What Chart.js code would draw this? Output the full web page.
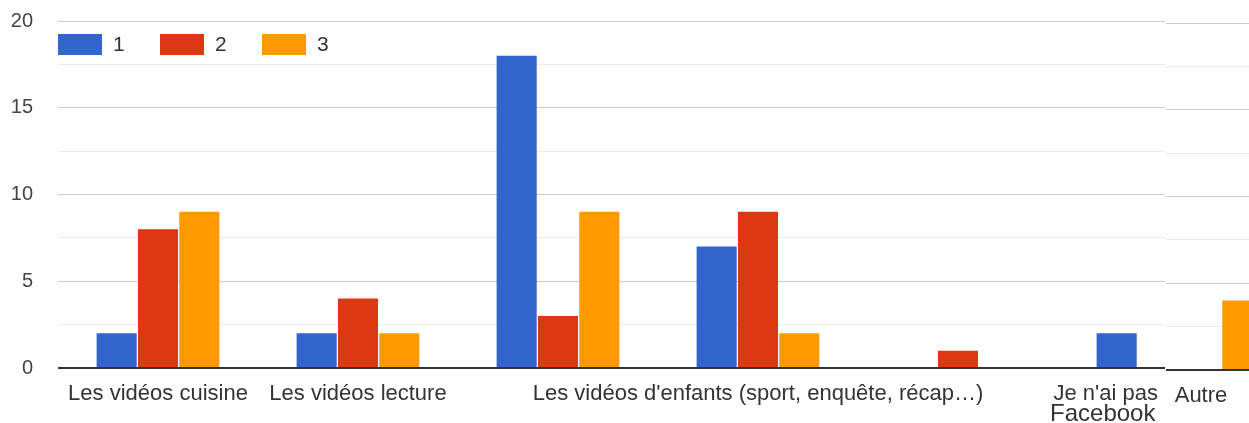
<!DOCTYPE html>
<html lang="fr">
<head>
    <meta charset="UTF-8">
    <title>Vidéos</title>
    <style>
        body {
            margin: 0;
            background: #ffffff;
            font-family: "Liberation Sans", Arial, sans-serif;
        }
        #wrap {
            position: relative;
            width: 1249px;
            height: 423px;
            overflow: hidden;
        }
        #left {
            position: absolute;
            left: 0;
            top: 0;
            width: 1165px;
            height: 423px;
            overflow: hidden;
        }
        #right {
            position: absolute;
            left: 1166px;
            top: 0;
            width: 83px;
            height: 423px;
            overflow: hidden;
        }
        #rightChart {
            margin-left: -65px;
        }
    </style>
    <script src="https://cdn.jsdelivr.net/npm/chart.js"></script>
</head>
<body>
    <div id="wrap">
        <div id="left"><canvas id="leftChart" width="1258" height="423"></canvas></div>
        <div id="right"><canvas id="rightChart" width="200" height="423"></canvas></div>
    </div>

    <script>
        // données
        var categories = ['Les vidéos cuisine', 'Les vidéos lecture', '', "Les vidéos d'enfants (sport, enquête, récap…)", '', ["Je n'ai pas", 'Facebook'], 'Autre'];
        var seriesNames = ['1', '2', '3'];
        var serie1 = [2, 2, 18, 7, 0, 2, 0];
        var serie2 = [8, 4, 3, 9, 1, 0, 0];
        var serie3 = [9, 2, 9, 2, 0, 0, 4];
        var colors = ['#3366cc', '#dc3912', '#ff9900'];
        var yTicks = [0, 5, 10, 15, 20];

        var FONT = '"Liberation Sans", Arial, sans-serif';

        function makeDatasets(from, to) {
            return [serie1, serie2, serie3].map(function (s, i) {
                return {
                    label: seriesNames[i],
                    data: s.slice(from, to),
                    backgroundColor: colors[i],
                    categoryPercentage: 0.62,
                    barPercentage: 0.97
                };
            });
        }

        // libellés de l'axe X dessinés à la main (décalés pour rester dans le cadre)
        var xLabels = {
            id: 'xLabels',
            afterDraw: function (chart, args, opts) {
                var ctx = chart.ctx, xs = chart.scales.x;
                ctx.save();
                ctx.fillStyle = '#333333';
                ctx.textBaseline = 'middle';
                ctx.textAlign = 'center';
                chart.data.labels.forEach(function (lab, i) {
                    var lines = Array.isArray(lab) ? lab : [lab];
                    ctx.font = '22px ' + FONT;
                    var w = Math.max.apply(null, lines.map(function (l) { return ctx.measureText(l).width; }));
                    var x = xs.getPixelForValue(i);
                    if (x + w / 2 > opts.maxRight) x = opts.maxRight - w / 2;
                    lines.forEach(function (l, k) {
                        ctx.font = (k > 0 ? '24px ' : '22px ') + FONT;
                        ctx.fillText(l, x - k * 3, xs.top + 26 + k * 20);
                    });
                });
                ctx.restore();
            }
        };

        // légende posée dans la zone de tracé
        var innerLegend = {
            id: 'innerLegend',
            afterDraw: function (chart) {
                var ctx = chart.ctx, a = chart.chartArea;
                ctx.save();
                ctx.font = '21px ' + FONT;
                ctx.textBaseline = 'middle';
                ctx.textAlign = 'left';
                chart.data.datasets.forEach(function (ds, i) {
                    var x = a.left + i * 102;
                    ctx.fillStyle = ds.backgroundColor;
                    ctx.fillRect(x, 34, 44, 21);
                    ctx.fillStyle = '#333333';
                    ctx.fillText(ds.label, x + 55, 45);
                });
                ctx.restore();
            }
        };

        function gridColor(c) {
            var v = c.tick ? c.tick.value : 1;
            if (v === 0) return '#333333';
            return yTicks.indexOf(v) >= 0 ? '#cccccc' : '#ebebeb';
        }
        function gridWidth(c) {
            return c.tick && c.tick.value === 0 ? 2 : 1;
        }

        function options(yWidth, xHeight, topPad, showY, maxRight) {
            return {
                responsive: false,
                animation: false,
                layout: { padding: { top: topPad, left: 0, right: 0, bottom: 0 } },
                plugins: {
                    legend: { display: false },
                    tooltip: { enabled: false },
                    xLabels: { maxRight: maxRight }
                },
                scales: {
                    x: {
                        grid: { display: false },
                        border: { display: false },
                        ticks: { display: false },
                        afterFit: function (s) {
                            s.height = xHeight;
                            s.paddingLeft = 0;
                            s.paddingRight = 0;
                        }
                    },
                    y: {
                        min: 0,
                        max: 20,
                        border: { display: false },
                        grid: { color: gridColor, lineWidth: gridWidth, drawTicks: false },
                        ticks: {
                            display: showY,
                            stepSize: 2.5,
                            padding: 25,
                            color: '#444444',
                            font: { family: FONT, size: 20 },
                            callback: function (v) { return yTicks.indexOf(v) >= 0 ? v : ''; }
                        },
                        afterFit: function (s) {
                            s.width = yWidth;
                            s.paddingTop = 0;
                            s.paddingBottom = 0;
                        }
                    }
                }
            };
        }

        new Chart(document.getElementById('leftChart'), {
            type: 'bar',
            data: { labels: categories.slice(0, 6), datasets: makeDatasets(0, 6) },
            options: options(58, 55, 21, true, 1158),
            plugins: [xLabels, innerLegend]
        });

        new Chart(document.getElementById('rightChart'), {
            type: 'bar',
            data: { labels: categories.slice(6), datasets: makeDatasets(6, 7) },
            options: options(0, 53, 23, false, Infinity),
            plugins: [xLabels]
        });
    </script>
</body>
</html>
